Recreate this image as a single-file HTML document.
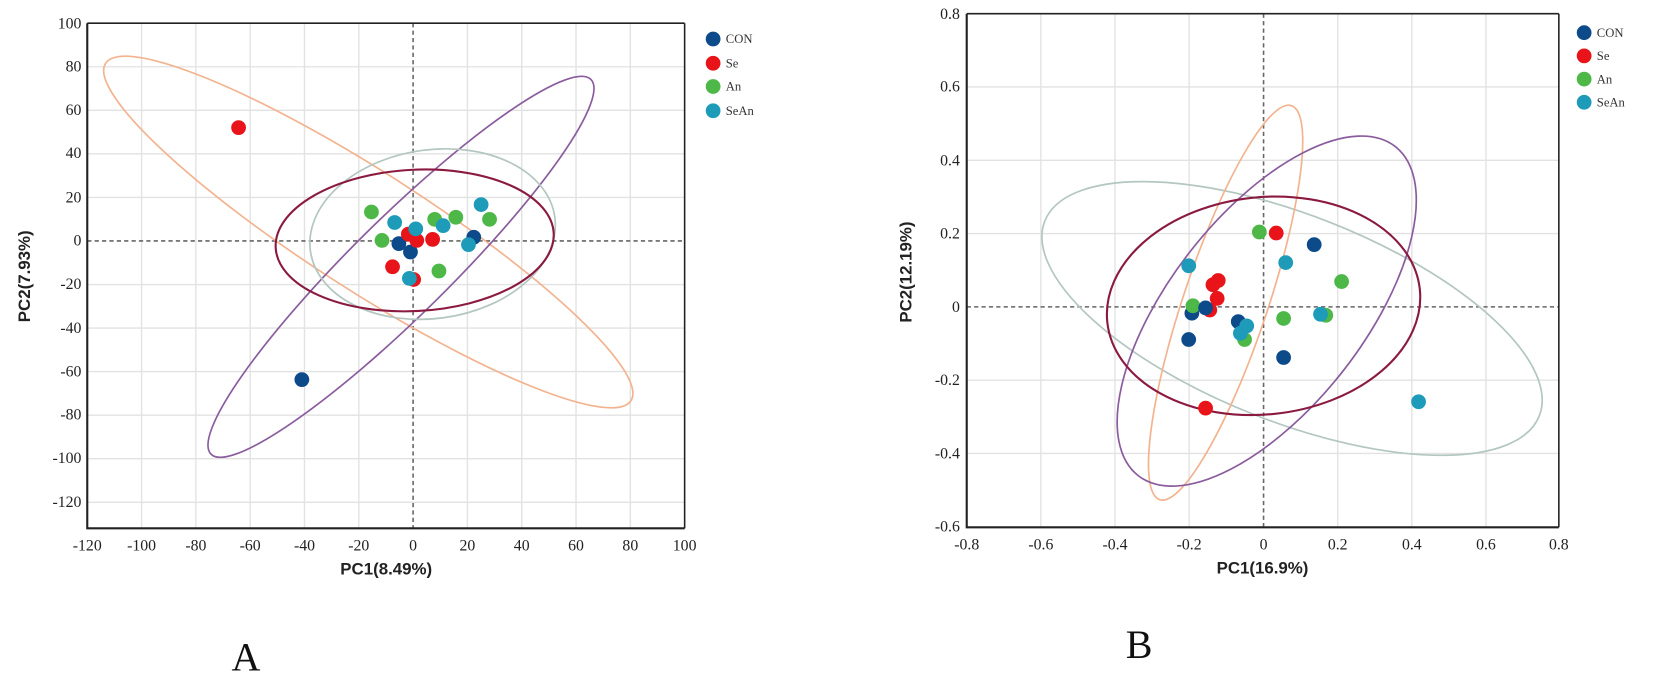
<!DOCTYPE html>
<html><head><meta charset="utf-8"><style>html,body{margin:0;padding:0;background:#fff;}svg{display:block}</style></head>
<body>
<svg width="1654" height="677" viewBox="0 0 1568 642" xmlns="http://www.w3.org/2000/svg">
<rect width="1568" height="642" fill="#fff"/>
<g id="A">
  <g stroke="#e2e2e2" stroke-width="1.3">
    <line x1="134" y1="22" x2="134" y2="501"/><line x1="185.5" y1="22" x2="185.5" y2="501"/><line x1="237" y1="22" x2="237" y2="501"/><line x1="288.5" y1="22" x2="288.5" y2="501"/><line x1="340" y1="22" x2="340" y2="501"/><line x1="443" y1="22" x2="443" y2="501"/><line x1="494.5" y1="22" x2="494.5" y2="501"/><line x1="546" y1="22" x2="546" y2="501"/><line x1="597.5" y1="22" x2="597.5" y2="501"/>
    <line x1="82.5" y1="63.3" x2="649" y2="63.3"/><line x1="82.5" y1="104.6" x2="649" y2="104.6"/><line x1="82.5" y1="145.9" x2="649" y2="145.9"/><line x1="82.5" y1="187.2" x2="649" y2="187.2"/><line x1="82.5" y1="269.8" x2="649" y2="269.8"/><line x1="82.5" y1="311.1" x2="649" y2="311.1"/><line x1="82.5" y1="352.4" x2="649" y2="352.4"/><line x1="82.5" y1="393.7" x2="649" y2="393.7"/><line x1="82.5" y1="435" x2="649" y2="435"/><line x1="82.5" y1="476.3" x2="649" y2="476.3"/>
  </g>
  <g stroke="#666" stroke-width="1.5" stroke-dasharray="4,3">
    <line x1="391.5" y1="22" x2="391.5" y2="501"/><line x1="82.5" y1="228.5" x2="649" y2="228.5"/>
  </g>
  <g fill="none" stroke-width="1.6">
    <ellipse cx="349" cy="220" rx="296" ry="56" transform="rotate(32.7 349 220)" stroke="#f3b38f"/>
    <ellipse cx="380" cy="253" rx="253" ry="46" transform="rotate(-44.6 380 253)" stroke="#8a5c9e"/>
    <ellipse cx="410" cy="222" rx="117" ry="80" transform="rotate(-8 410 222)" stroke="#b3c6c0"/>
    <ellipse cx="393" cy="228" rx="132" ry="67" transform="rotate(-3 393 228)" stroke="#8b1a40" stroke-width="2"/>
  </g>
  <g stroke="#222" stroke-width="2" fill="none"><polyline points="82.5,22 82.5,501 649,501"/><line x1="82.5" y1="22" x2="649" y2="22" stroke-width="1.5"/><line x1="649" y1="22" x2="649" y2="501" stroke-width="1.5"/></g>
  <g font-family="Liberation Serif, serif" font-size="15" fill="#222" text-anchor="end">
    <text x="77" y="27">100</text><text x="77" y="68">80</text><text x="77" y="109">60</text><text x="77" y="150">40</text><text x="77" y="192">20</text><text x="77" y="233">0</text><text x="77" y="274">-20</text><text x="77" y="316">-40</text><text x="77" y="357">-60</text><text x="77" y="398">-80</text><text x="77" y="439">-100</text><text x="77" y="481">-120</text>
  </g>
  <g font-family="Liberation Serif, serif" font-size="15" fill="#222" text-anchor="middle">
    <text x="82.5" y="522">-120</text><text x="134" y="522">-100</text><text x="185.5" y="522">-80</text><text x="237" y="522">-60</text><text x="288.5" y="522">-40</text><text x="340" y="522">-20</text><text x="391.5" y="522">0</text><text x="443" y="522">20</text><text x="494.5" y="522">40</text><text x="546" y="522">60</text><text x="597.5" y="522">80</text><text x="649" y="522">100</text>
  </g>
  <text x="366" y="545" font-family="Liberation Sans, sans-serif" font-weight="bold" font-size="16" text-anchor="middle" fill="#222">PC1(8.49%)</text>
  <text transform="translate(28 262) rotate(-90)" font-family="Liberation Sans, sans-serif" font-weight="bold" font-size="16" text-anchor="middle" fill="#222">PC2(7.93%)</text>
  <g>
    <circle cx="226" cy="121" r="7" fill="#e8141a"/><circle cx="286" cy="360" r="7" fill="#0d4a8a"/>
    <circle cx="352" cy="201" r="7" fill="#4db848"/><circle cx="362" cy="228" r="7" fill="#4db848"/><circle cx="374" cy="211" r="7" fill="#1d9bb8"/><circle cx="378" cy="231" r="7" fill="#0d4a8a"/><circle cx="372" cy="253" r="7" fill="#e8141a"/><circle cx="387" cy="222" r="7" fill="#e8141a"/><circle cx="392" cy="265" r="7" fill="#e8141a"/><circle cx="389" cy="239" r="7" fill="#0d4a8a"/><circle cx="388" cy="264" r="7" fill="#1d9bb8"/><circle cx="395" cy="228" r="7" fill="#e8141a"/><circle cx="394" cy="217" r="7" fill="#1d9bb8"/><circle cx="410" cy="227" r="7" fill="#e8141a"/><circle cx="412" cy="208" r="7" fill="#4db848"/><circle cx="416" cy="257" r="7" fill="#4db848"/><circle cx="420" cy="214" r="7" fill="#1d9bb8"/><circle cx="432" cy="206" r="7" fill="#4db848"/><circle cx="449" cy="225" r="7" fill="#0d4a8a"/><circle cx="444" cy="232" r="7" fill="#1d9bb8"/><circle cx="456" cy="194" r="7" fill="#1d9bb8"/><circle cx="464" cy="208" r="7" fill="#4db848"/>
  </g>
  <g font-family="Liberation Serif, serif" font-size="12" fill="#333">
    <circle cx="676" cy="37" r="7" fill="#0d4a8a"/><text x="688" y="41">CON</text>
    <circle cx="676" cy="60" r="7" fill="#e8141a"/><text x="688" y="64">Se</text>
    <circle cx="676" cy="82" r="7" fill="#4db848"/><text x="688" y="86">An</text>
    <circle cx="676" cy="105" r="7" fill="#1d9bb8"/><text x="688" y="109">SeAn</text>
  </g>
  <text x="233" y="636" font-family="Liberation Serif, serif" font-size="38" text-anchor="middle" fill="#111">A</text>
</g>
<g id="B">
  <g stroke="#e2e2e2" stroke-width="1.3">
    <line x1="986.8" y1="13" x2="986.8" y2="500"/><line x1="1057.1" y1="13" x2="1057.1" y2="500"/><line x1="1127.4" y1="13" x2="1127.4" y2="500"/><line x1="1268.3" y1="13" x2="1268.3" y2="500"/><line x1="1338.6" y1="13" x2="1338.6" y2="500"/><line x1="1408.9" y1="13" x2="1408.9" y2="500"/>
    <line x1="916.5" y1="82.5" x2="1478" y2="82.5"/><line x1="916.5" y1="152" x2="1478" y2="152"/><line x1="916.5" y1="221.5" x2="1478" y2="221.5"/><line x1="916.5" y1="360.5" x2="1478" y2="360.5"/><line x1="916.5" y1="430" x2="1478" y2="430"/>
  </g>
  <g stroke="#666" stroke-width="1.5" stroke-dasharray="4,3">
    <line x1="1198" y1="13" x2="1198" y2="500"/><line x1="916.5" y1="291" x2="1478" y2="291"/>
  </g>
  <g fill="none" stroke-width="1.6">
    <ellipse cx="1225" cy="302" rx="252" ry="98" transform="rotate(21.5 1225 302)" stroke="#b3c6c0"/>
    <ellipse cx="1162" cy="287" rx="197" ry="40" transform="rotate(108.5 1162 287)" stroke="#f3b38f"/>
    <ellipse cx="1201" cy="295" rx="198" ry="92" transform="rotate(128 1201 295)" stroke="#8a5c9e"/>
    <ellipse cx="1198" cy="290" rx="149" ry="103" transform="rotate(-6 1198 290)" stroke="#8b1a40" stroke-width="2"/>
  </g>
  <g stroke="#222" fill="none"><polyline points="916.5,13 916.5,500 1478,500" stroke-width="2"/><line x1="916.5" y1="13" x2="1478" y2="13" stroke-width="1.5"/><line x1="1478" y1="13" x2="1478" y2="500" stroke-width="1.5"/></g>
  <g font-family="Liberation Serif, serif" font-size="15" fill="#222" text-anchor="end">
    <text x="910" y="18">0.8</text><text x="910" y="87">0.6</text><text x="910" y="157">0.4</text><text x="910" y="226">0.2</text><text x="910" y="296">0</text><text x="910" y="365">-0.2</text><text x="910" y="435">-0.4</text><text x="910" y="504">-0.6</text>
  </g>
  <g font-family="Liberation Serif, serif" font-size="15" fill="#222" text-anchor="middle">
    <text x="916.5" y="521">-0.8</text><text x="986.8" y="521">-0.6</text><text x="1057.1" y="521">-0.4</text><text x="1127.4" y="521">-0.2</text><text x="1198" y="521">0</text><text x="1268.3" y="521">0.2</text><text x="1338.6" y="521">0.4</text><text x="1408.9" y="521">0.6</text><text x="1478" y="521">0.8</text>
  </g>
  <text x="1197" y="544" font-family="Liberation Sans, sans-serif" font-weight="bold" font-size="16" text-anchor="middle" fill="#222">PC1(16.9%)</text>
  <text transform="translate(864 258) rotate(-90)" font-family="Liberation Sans, sans-serif" font-weight="bold" font-size="16" text-anchor="middle" fill="#222">PC2(12.19%)</text>
  <g>
    <circle cx="1150" cy="270" r="7" fill="#e8141a"/><circle cx="1147" cy="294" r="7" fill="#e8141a"/><circle cx="1130" cy="297" r="7" fill="#0d4a8a"/><circle cx="1131" cy="290" r="7" fill="#4db848"/><circle cx="1143" cy="292" r="7" fill="#0d4a8a"/><circle cx="1155" cy="266" r="7" fill="#e8141a"/><circle cx="1154" cy="283" r="7" fill="#e8141a"/><circle cx="1127" cy="322" r="7" fill="#0d4a8a"/><circle cx="1127" cy="252" r="7" fill="#1d9bb8"/><circle cx="1174" cy="305" r="7" fill="#0d4a8a"/><circle cx="1180" cy="322" r="7" fill="#4db848"/><circle cx="1176" cy="316" r="7" fill="#1d9bb8"/><circle cx="1182" cy="309" r="7" fill="#1d9bb8"/><circle cx="1194" cy="220" r="7" fill="#4db848"/><circle cx="1210" cy="221" r="7" fill="#e8141a"/><circle cx="1219" cy="249" r="7" fill="#1d9bb8"/><circle cx="1217" cy="302" r="7" fill="#4db848"/><circle cx="1217" cy="339" r="7" fill="#0d4a8a"/><circle cx="1246" cy="232" r="7" fill="#0d4a8a"/><circle cx="1272" cy="267" r="7" fill="#4db848"/><circle cx="1257" cy="299" r="7" fill="#4db848"/><circle cx="1252" cy="298" r="7" fill="#1d9bb8"/><circle cx="1143" cy="387" r="7" fill="#e8141a"/><circle cx="1345" cy="381" r="7" fill="#1d9bb8"/>
  </g>
  <g font-family="Liberation Serif, serif" font-size="12" fill="#333">
    <circle cx="1502" cy="31" r="7" fill="#0d4a8a"/><text x="1514" y="35">CON</text>
    <circle cx="1502" cy="53" r="7" fill="#e8141a"/><text x="1514" y="57">Se</text>
    <circle cx="1502" cy="75" r="7" fill="#4db848"/><text x="1514" y="79">An</text>
    <circle cx="1502" cy="97" r="7" fill="#1d9bb8"/><text x="1514" y="101">SeAn</text>
  </g>
  <text x="1080" y="624" font-family="Liberation Serif, serif" font-size="38" text-anchor="middle" fill="#111">B</text>
</g>
</svg>
</body></html>
